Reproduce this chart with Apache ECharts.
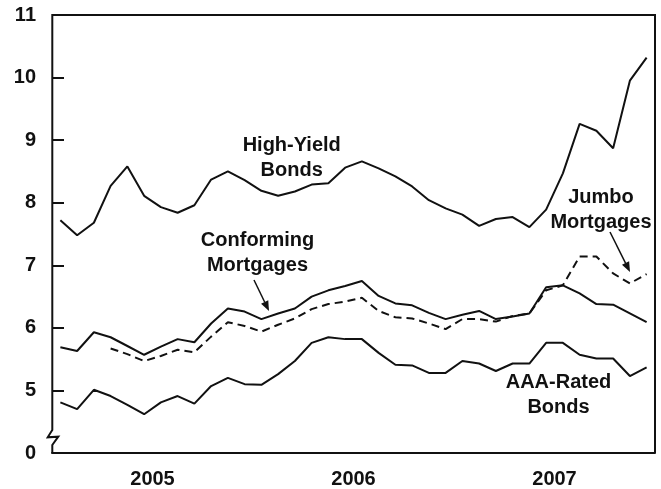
<!DOCTYPE html>
<html>
<head>
<meta charset="utf-8">
<script src="https://cdn.jsdelivr.net/npm/echarts@6/dist/echarts.min.js"></script>
<style>
  html, body { margin: 0; padding: 0; background: #fff; }
  #chart { width: 661px; height: 489px; }
</style>
</head>
<body>
<div id="chart"></div>
<script>
// monthly observations, Jan 2005 - Dec 2007
const months = []
const years = ['2005', '2006', '2007']
years.forEach(y => {
  for (let m = 1; m <= 12; m++) months.push(y + '-' + String(m).padStart(2, '0'))
})

const highYield = [7.72, 7.48, 7.68, 8.27, 8.58, 8.11, 7.93, 7.84, 7.96, 8.37, 8.50, 8.36,
  8.19, 8.11, 8.18, 8.29, 8.31, 8.56, 8.66, 8.55, 8.42, 8.26, 8.04, 7.91,
  7.81, 7.63, 7.74, 7.77, 7.61, 7.89, 8.47, 9.26, 9.15, 8.87, 9.95, 10.32]
const conforming = [5.69, 5.63, 5.93, 5.85, 5.71, 5.57, 5.70, 5.82, 5.77, 6.07, 6.31, 6.26,
  6.14, 6.23, 6.31, 6.50, 6.60, 6.67, 6.75, 6.51, 6.39, 6.36, 6.24, 6.14,
  6.21, 6.27, 6.14, 6.18, 6.23, 6.65, 6.68, 6.55, 6.38, 6.37, 6.23, 6.09]
const jumbo = [null, null, null, 5.67, 5.58, 5.47, 5.55, 5.65, 5.61, 5.86, 6.09, 6.03,
  5.94, 6.05, 6.15, 6.30, 6.38, 6.42, 6.48, 6.27, 6.17, 6.15, 6.07, 5.98,
  6.14, 6.14, 6.10, 6.19, 6.23, 6.60, 6.68, 7.14, 7.14, 6.87, 6.71, 6.86]
const aaaRated = [4.81, 4.70, 5.01, 4.91, 4.77, 4.62, 4.81, 4.91, 4.79, 5.07, 5.20, 5.10,
  5.09, 5.26, 5.47, 5.76, 5.85, 5.82, 5.82, 5.60, 5.41, 5.40, 5.28, 5.28,
  5.47, 5.43, 5.31, 5.43, 5.43, 5.76, 5.76, 5.57, 5.51, 5.51, 5.23, 5.37]

const FONT = '"Liberation Sans", Arial, sans-serif'
const ink = '#111'

const chart = echarts.init(document.getElementById('chart'))

// small arrow: line plus a filled head at the end point
const arrow = (x1, y1, x2, y2) => {
  const dx = x2 - x1, dy = y2 - y1
  const len = Math.sqrt(dx * dx + dy * dy)
  const ux = dx / len, uy = dy / len
  const bx = x2 - ux * 10, by = y2 - uy * 10
  return [
    {type: 'line', shape: {x1, y1, x2: bx, y2: by}, style: {stroke: ink, lineWidth: 1.5}},
    {type: 'polygon', shape: {points: [[x2, y2], [bx - uy * 4, by + ux * 4], [bx + uy * 4, by - ux * 4]]},
      style: {fill: ink}}
  ]
}

const label = (x, y, lines) => lines.map((t, i) => ({
  type: 'text', x, y: y + i * 25,
  style: {text: t, font: 'bold 20px ' + FONT, fill: ink, textAlign: 'center', textVerticalAlign: 'middle'}
}))

const lineSeries = (name, data, dashed) => ({
  name, type: 'line', data, xAxisIndex: 0, symbol: 'none',
  lineStyle: {color: ink, width: 2, type: dashed ? [8, 5] : 'solid'},
  connectNulls: false, silent: true, z: 3
})

chart.setOption({
  animation: false,
  grid: {left: 52, right: 6, top: 15, bottom: 36},
  xAxis: [
    {
      type: 'category', data: months, boundaryGap: true,
      axisLine: {lineStyle: {color: ink, width: 2}},
      axisTick: {inside: true, length: 12, interval: (i) => i % 12 === 0, lineStyle: {color: ink, width: 2}},
      axisLabel: {show: false}
    },
    {
      type: 'category', data: years, position: 'bottom', offset: 0,
      axisLine: {show: false}, axisTick: {show: false},
      axisLabel: {margin: 16, color: ink, fontSize: 20, fontWeight: 'bold', fontFamily: FONT}
    }
  ],
  yAxis: {
    type: 'value', min: 4, max: 11, interval: 1,
    axisLine: {show: false},
    axisTick: {show: true, inside: true, length: 12, lineStyle: {color: ink, width: 2}},
    splitLine: {show: false},
    axisLabel: {
      margin: 16, color: ink, fontSize: 20, fontWeight: 'bold', fontFamily: FONT,
      formatter: (v) => (v === 4 ? '0' : String(v))
    }
  },
  series: [
    lineSeries('High-Yield Bonds', highYield, false),
    lineSeries('Conforming Mortgages', conforming, false),
    lineSeries('Jumbo Mortgages', jumbo, true),
    lineSeries('AAA-Rated Bonds', aaaRated, false)
  ],
  graphic: [
    // frame: left axis with break, top and right edges
    {type: 'polyline', shape: {points: [[52.3, 453], [52.3, 445], [58.3, 436.7], [47.7, 437.3], [52.3, 430], [52.3, 15], [655, 15], [655, 453]]},
      style: {stroke: ink, lineWidth: 2, fill: null}, z: 10},
    ...label(291.7, 145, ['High-Yield', 'Bonds']),
    ...label(257.5, 240, ['Conforming', 'Mortgages']),
    ...label(601, 197, ['Jumbo', 'Mortgages']),
    ...label(558.5, 382, ['AAA-Rated', 'Bonds']),
    ...arrow(254, 280, 269, 311),
    ...arrow(610, 232, 630, 272)
  ]
})
</script>
</body>
</html>
